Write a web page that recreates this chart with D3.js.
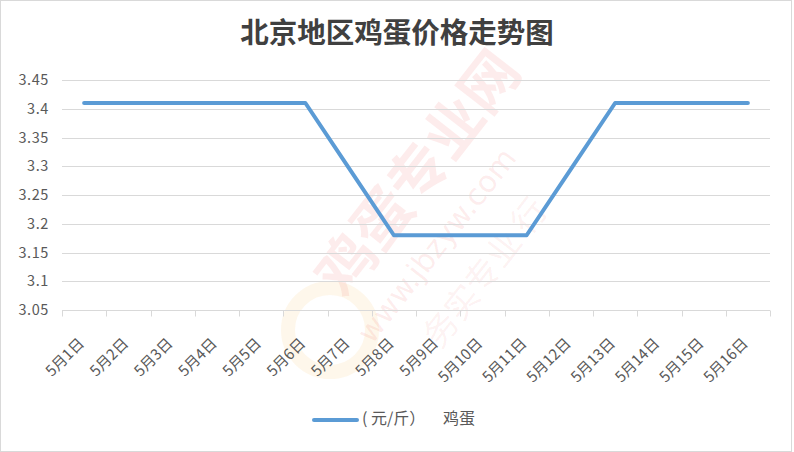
<!DOCTYPE html>
<html><head><meta charset="utf-8">
<script src="https://cdn.jsdelivr.net/npm/d3@7/dist/d3.min.js"></script>
<style>
html,body{margin:0;padding:0;background:#fff;}
svg{display:block;}
</style></head>
<body>
<svg id="chart" width="794" height="452"></svg>
<script>
const title = "北京地区鸡蛋价格走势图";
const categories = ["5月1日","5月2日","5月3日","5月4日","5月5日","5月6日","5月7日","5月8日","5月9日","5月10日","5月11日","5月12日","5月13日","5月14日","5月15日","5月16日"];
const seriesUnit = "( 元/斤）";
const seriesName = "鸡蛋";
const values = [3.41,3.41,3.41,3.41,3.41,3.41,3.295,3.18,3.18,3.18,3.18,3.295,3.41,3.41,3.41,3.41];
const yTicks = [3.05,3.1,3.15,3.2,3.25,3.3,3.35,3.4,3.45];

const svg = d3.select("#chart");
const W = 794, H = 452;
const m = {left:62, right:24, top:80, bottom:142};
const font = "'Noto Sans CJK SC','Microsoft YaHei',sans-serif";

svg.append("rect").attr("x",0.5).attr("y",0.5).attr("width",W-3).attr("height",H-1)
  .attr("fill","#fff").attr("stroke","#d9d9d9");

const x = d3.scaleBand().domain(categories).range([m.left, W-m.right]);
const y = d3.scaleLinear().domain([3.05,3.45]).range([H-m.bottom, m.top]);

// watermark
const wm = svg.append("g").attr("pointer-events","none");
wm.append("text").attr("transform","translate(345,300) rotate(-52)")
  .attr("font-family",font).attr("font-weight",700).attr("font-size",58)
  .attr("fill","rgba(235,70,70,0.10)").text("鸡蛋专业网");
wm.append("text").attr("transform","translate(372,345) rotate(-52)")
  .attr("font-family","'DejaVu Sans',sans-serif").attr("font-size",30)
  .attr("fill","rgba(235,70,70,0.10)").text("www.jbzyw.com");
wm.append("text").attr("transform","translate(440,350) rotate(-52)")
  .attr("font-family",font).attr("font-size",34)
  .attr("fill","rgba(235,70,70,0.08)").text("务实专业 行");
wm.append("circle").attr("cx",330).attr("cy",330).attr("r",42)
  .attr("fill","none").attr("stroke","rgba(250,180,60,0.10)").attr("stroke-width",14);

// gridlines
svg.append("g").selectAll("line").data(yTicks.slice(1)).join("line")
  .attr("x1",m.left).attr("x2",W-m.right)
  .attr("y1",d=>Math.round(y(d))+0.5).attr("y2",d=>Math.round(y(d))+0.5)
  .attr("stroke","#d9d9d9").attr("stroke-width",1);

// y axis labels
const yAxis = d3.axisLeft(y).tickValues(yTicks).tickFormat(d=>d3.format("")(+d.toFixed(2))).tickSize(0).tickPadding(13);
const gy = svg.append("g").attr("transform",`translate(${m.left},0)`).call(yAxis);
gy.select(".domain").remove();
gy.selectAll("text").attr("font-family",font).attr("font-size",14.5).attr("letter-spacing",0.6).attr("fill","#595959");

// x axis
const gx = svg.append("g").attr("transform",`translate(0,${Math.round(y(3.05))+0.5})`);
gx.append("line").attr("x1",m.left).attr("x2",W-m.right).attr("stroke","#d9d9d9");
const edges = categories.map(c=>x(c)).concat([W-m.right]);
gx.selectAll("line.tk").data(edges).join("line").attr("class","tk")
  .attr("x1",d=>Math.round(d)+0.5).attr("x2",d=>Math.round(d)+0.5).attr("y1",0).attr("y2",6)
  .attr("stroke","#d9d9d9");
gx.selectAll("text").data(categories).join("text")
  .attr("transform",d=>`translate(${x(d)+x.bandwidth()/2-2},${31}) rotate(-45)`)
  .attr("text-anchor","end").attr("dominant-baseline","middle")
  .attr("font-family",font).attr("font-size",15).attr("fill","#595959").text(d=>d);

// line
const line = d3.line().x((d,i)=>x(categories[i])+x.bandwidth()/2).y(d=>y(d));
svg.append("path").datum(values).attr("d",line).attr("fill","none")
  .attr("stroke","#5b9bd5").attr("stroke-width",4).attr("stroke-linejoin","round").attr("stroke-linecap","round");

// title
svg.append("text").attr("x",397).attr("y",43).attr("text-anchor","middle")
  .attr("font-family",font).attr("font-weight",700).attr("font-size",28.5).attr("fill","#404040").text(title);

// legend
const lg = svg.append("g");
lg.append("line").attr("x1",314).attr("x2",357).attr("y1",420).attr("y2",420)
  .attr("stroke","#5b9bd5").attr("stroke-width",4).attr("stroke-linecap","round");
const lt = lg.append("text").attr("y",420).attr("dominant-baseline","middle")
  .attr("font-family",font).attr("font-size",16).attr("fill","#595959");
lt.append("tspan").attr("x",362).attr("xml:space","preserve").style("white-space","pre").text(seriesUnit);
lt.append("tspan").attr("x",443).text(seriesName);
</script>
</body></html>
